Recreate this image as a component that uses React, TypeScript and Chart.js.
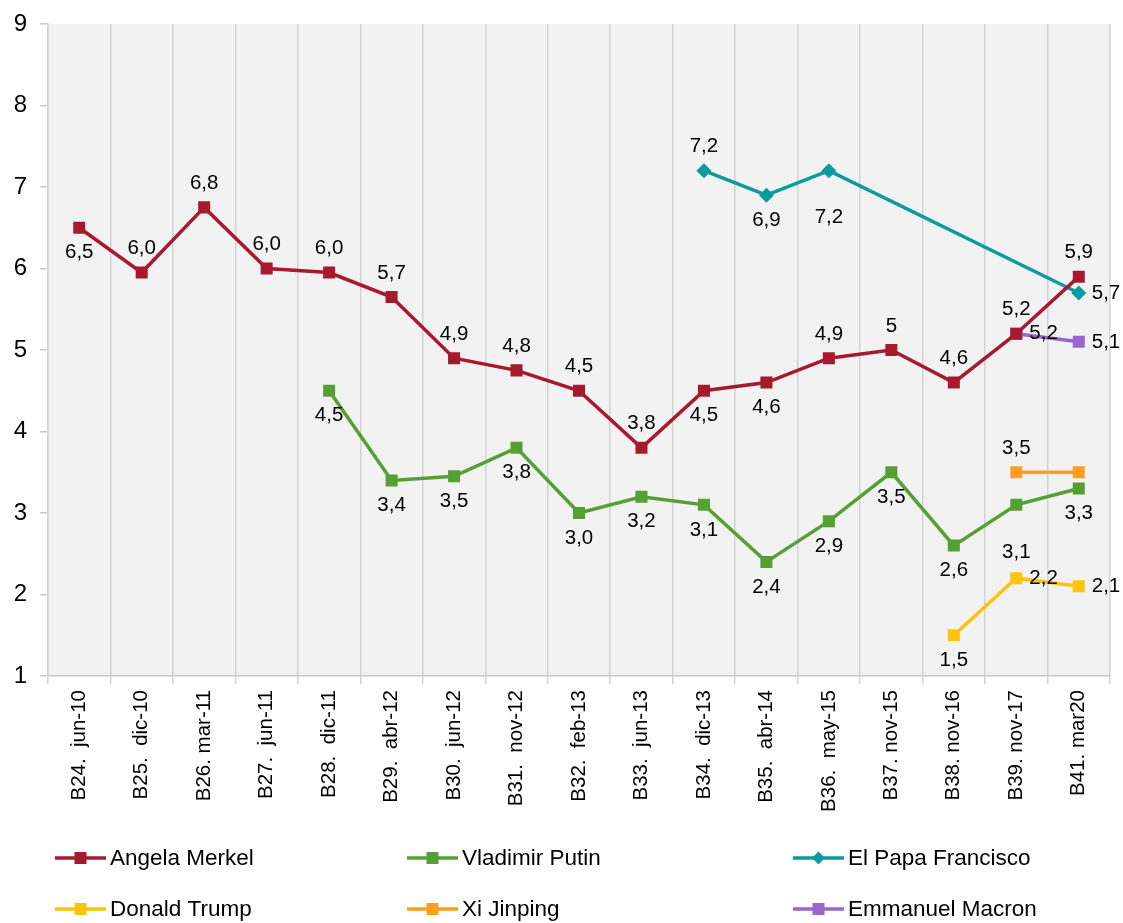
import React, { useEffect, useRef } from 'react';
import { Chart, registerables } from 'chart.js';

Chart.register(...registerables);

const categories = [
  'B24.  jun-10', 'B25.  dic-10', 'B26. mar-11', 'B27.  jun-11', 'B28.  dic-11',
  'B29.  abr-12', 'B30.  jun-12', 'B31.  nov-12', 'B32.  feb-13', 'B33.  jun-13',
  'B34.  dic-13', 'B35.  abr-14', 'B36.  may-15', 'B37. nov-15', 'B38. nov-16',
  'B39. nov-17', 'B41. mar20',
];

const yTicks = [1, 2, 3, 4, 5, 6, 7, 8, 9];

const merkel = [6.5, 5.95, 6.75, 6.0, 5.95, 5.65, 4.9, 4.75, 4.5, 3.8, 4.5, 4.6, 4.9, 5.0, 4.6, 5.2, 5.9];
const merkelLabels = ['6,5', '6,0', '6,8', '6,0', '6,0', '5,7', '4,9', '4,8', '4,5', '3,8', '4,5', '4,6', '4,9', '5', '4,6', '5,2', '5,9'];
const merkelPos = ['b', 't', 't', 't', 't', 't', 't', 't', 't', 't', 'b', 'b', 't', 't', 't', 't', 't'];

const putin = [null, null, null, null, 4.5, 3.4, 3.45, 3.8, 3.0, 3.2, 3.1, 2.4, 2.9, 3.5, 2.6, 3.1, 3.3];
const putinLabels = [null, null, null, null, '4,5', '3,4', '3,5', '3,8', '3,0', '3,2', '3,1', '2,4', '2,9', '3,5', '2,6', '3,1', '3,3'];
const putinPos = ['', '', '', '', 'b', 'b', 'b', 'b', 'b', 'b', 'b', 'b', 'b', 'b', 'b', 'bb', 'b'];

const papa = [null, null, null, null, null, null, null, null, null, null, 7.2, 6.9, 7.2, null, null, null, 5.7];
const papaLabels = [null, null, null, null, null, null, null, null, null, null, '7,2', '6,9', '7,2', null, null, null, '5,7'];
const papaPos = ['', '', '', '', '', '', '', '', '', '', 't', 'b', 'bb', '', '', '', 'r'];

const trump = [null, null, null, null, null, null, null, null, null, null, null, null, null, null, 1.5, 2.2, 2.1];
const trumpLabels = [null, null, null, null, null, null, null, null, null, null, null, null, null, null, '1,5', '2,2', '2,1'];
const trumpPos = ['', '', '', '', '', '', '', '', '', '', '', '', '', '', 'b', 'r', 'r'];

const xi = [null, null, null, null, null, null, null, null, null, null, null, null, null, null, null, 3.5, 3.5];
const xiLabels = [null, null, null, null, null, null, null, null, null, null, null, null, null, null, null, '3,5', null];
const xiPos = ['', '', '', '', '', '', '', '', '', '', '', '', '', '', '', 't', ''];

const macron = [null, null, null, null, null, null, null, null, null, null, null, null, null, null, null, 5.2, 5.1];
const macronLabels = [null, null, null, null, null, null, null, null, null, null, null, null, null, null, null, '5,2', '5,1'];
const macronPos = ['', '', '', '', '', '', '', '', '', '', '', '', '', '', '', 'r', 'r'];

const FONT = "'Liberation Sans', Arial, sans-serif";

const plotBgPlugin = {
  id: 'plotBg',
  beforeDraw(chart: any) {
    const { ctx, chartArea } = chart;
    ctx.save();
    ctx.fillStyle = '#F2F2F2';
    ctx.fillRect(chartArea.left, chartArea.top, chartArea.right - chartArea.left, chartArea.bottom - chartArea.top);
    ctx.restore();
  },
};

const dataLabelPlugin = {
  id: 'dataLabels',
  afterDatasetsDraw(chart: any) {
    const { ctx } = chart;
    ctx.save();
    ctx.font = `20.5px ${FONT}`;
    ctx.fillStyle = '#000';
    ctx.textBaseline = 'middle';
    chart.data.datasets.forEach((ds: any, di: number) => {
      const meta = chart.getDatasetMeta(di);
      meta.data.forEach((pt: any, i: number) => {
        const text = ds.labelTexts[i];
        if (!text || ds.data[i] == null) return;
        const pos = ds.labelPos[i];
        let x = pt.x;
        let y = pt.y;
        if (pos === 't') {
          ctx.textAlign = 'center';
          y -= 24;
        } else if (pos === 'b') {
          ctx.textAlign = 'center';
          y += 25;
        } else if (pos === 'bb') {
          ctx.textAlign = 'center';
          y += 47;
        } else {
          ctx.textAlign = 'left';
          x += 13;
        }
        ctx.fillText(text, x, y);
      });
    });
    ctx.restore();
  },
};

const legendPlugin = {
  id: 'customLegend',
  afterDraw(chart: any) {
    const { ctx } = chart;
    const cols = [55, 407, 793];
    const rows = [858, 909];
    ctx.save();
    chart.data.datasets.forEach((ds: any, i: number) => {
      const x = cols[i % 3];
      const y = rows[Math.floor(i / 3)];
      ctx.strokeStyle = ds.borderColor;
      ctx.lineWidth = 3.5;
      ctx.beginPath();
      ctx.moveTo(x, y);
      ctx.lineTo(x + 51, y);
      ctx.stroke();
      ctx.fillStyle = ds.backgroundColor;
      const cx = x + 25.5;
      if (ds.pointStyle === 'rectRot') {
        ctx.beginPath();
        ctx.moveTo(cx, y - 6.5);
        ctx.lineTo(cx + 6.5, y);
        ctx.lineTo(cx, y + 6.5);
        ctx.lineTo(cx - 6.5, y);
        ctx.closePath();
        ctx.fill();
      } else {
        ctx.fillRect(cx - 6, y - 6, 12, 12);
      }
      ctx.fillStyle = '#000';
      ctx.font = `22.5px ${FONT}`;
      ctx.textAlign = 'left';
      ctx.textBaseline = 'middle';
      ctx.fillText(ds.label, x + 55, y + 1);
    });
    ctx.restore();
  },
};

function makeDs(label: string, data: any[], texts: any[], pos: string[], color: string, style: string) {
  return {
    label,
    data,
    labelTexts: texts,
    labelPos: pos,
    borderColor: color,
    backgroundColor: color,
    borderWidth: 3.5,
    pointStyle: style,
    pointRadius: style === 'rectRot' ? 7.5 : 8.5,
    pointHoverRadius: style === 'rectRot' ? 7.5 : 8.5,
    pointBorderWidth: 0,
    spanGaps: true,
    tension: 0,
  };
}

export default function App() {
  const ref = useRef<HTMLCanvasElement | null>(null);
  useEffect(() => {
    document.body.style.margin = '0';
    const canvas = ref.current;
    if (!canvas) return;
    const chart = new Chart(canvas, {
      type: 'line',
      data: {
        labels: categories,
        datasets: [
          makeDs('Angela Merkel', merkel, merkelLabels, merkelPos, '#A6192E', 'rect'),
          makeDs('Vladimir Putin', putin, putinLabels, putinPos, '#56A033', 'rect'),
          makeDs('El Papa Francisco', papa, papaLabels, papaPos, '#0A9BA0', 'rectRot'),
          makeDs('Donald Trump', trump, trumpLabels, trumpPos, '#FFC20E', 'rect'),
          makeDs('Xi Jinping', xi, xiLabels, xiPos, '#FF9E1F', 'rect'),
          makeDs('Emmanuel Macron', macron, macronLabels, macronPos, '#9966CC', 'rect'),
        ] as any,
      },
      options: {
        animation: false,
        responsive: false,
        devicePixelRatio: 1,
        layout: { padding: { top: 24, right: 13, left: 0, bottom: 0 } },
        plugins: {
          legend: { display: false },
          tooltip: { enabled: false },
        },
        scales: {
          x: {
            type: 'category',
            offset: true,
            grid: {
              display: true,
              offset: true,
              color: '#D2D2D2',
              lineWidth: 1.5,
              drawTicks: true,
              tickLength: 8,
            },
            border: { display: true, color: '#C8C8C8', width: 1.5 },
            ticks: {
              autoSkip: false,
              minRotation: 90,
              maxRotation: 90,
              color: '#000',
              padding: 6,
              font: { family: FONT, size: 20.5 },
            },
            afterFit: (scale: any) => {
              scale.height = 247;
              scale.paddingLeft = 0;
              scale.paddingRight = 0;
            },
          },
          y: {
            type: 'linear',
            min: 1,
            max: 9,
            afterBuildTicks: (scale: any) => {
              scale.ticks = yTicks.map((v) => ({ value: v }));
            },
            grid: {
              display: true,
              drawOnChartArea: false,
              drawTicks: true,
              tickLength: 8,
              color: '#C8C8C8',
              lineWidth: 1.5,
            },
            border: { display: true, color: '#D2D2D2', width: 1.5 },
            ticks: {
              color: '#000',
              padding: 13,
              font: { family: FONT, size: 24 },
            },
            afterFit: (scale: any) => {
              scale.width = 48;
              scale.paddingTop = 0;
              scale.paddingBottom = 0;
            },
          },
        },
      },
      plugins: [plotBgPlugin, dataLabelPlugin, legendPlugin],
    });
    return () => chart.destroy();
  }, []);
  return (
    <div style={{ width: 1123, height: 923, background: '#fff' }}>
      <canvas ref={ref} width={1123} height={923} style={{ display: 'block' }} />
    </div>
  );
}
